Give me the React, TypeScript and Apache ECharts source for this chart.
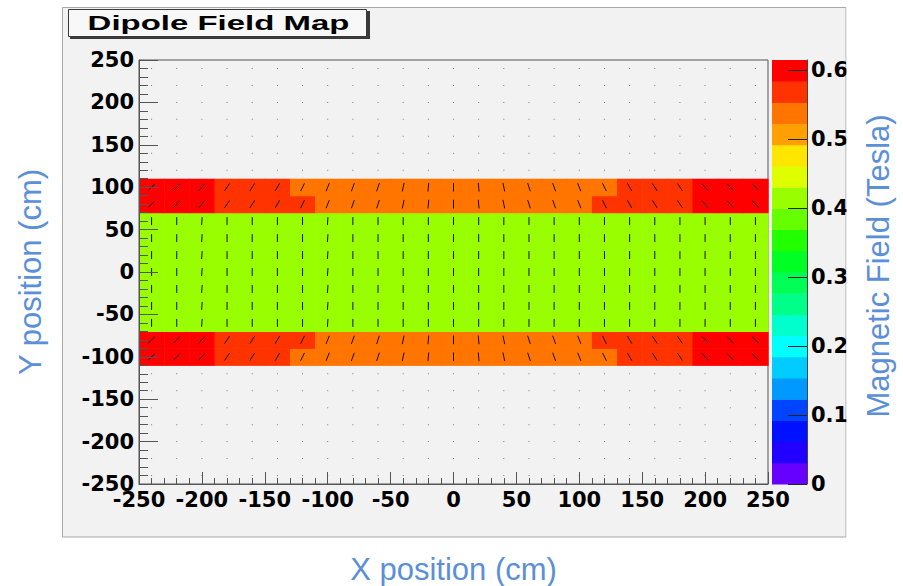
import React, { useEffect, useRef } from 'react';
import * as echarts from 'echarts';

// Cell centres (cm), 20 cm bins from -250 to 250
const xCenters = [-240, -220, -200, -180, -160, -140, -120, -100, -80, -60, -40, -20, 0, 20, 40, 60, 80, 100, 120, 140, 160, 180, 200, 220, 240];
const yCenters = [-240, -220, -200, -180, -160, -140, -120, -100, -80, -60, -40, -20, 0, 20, 40, 60, 80, 100, 120, 140, 160, 180, 200, 220, 240];

// Field magnitude (Tesla) per column for each kind of row
const fieldOuterRow = [0.6, 0.6, 0.6, 0.57, 0.57, 0.57, 0.54, 0.54, 0.54, 0.54, 0.54, 0.54, 0.54, 0.54, 0.54, 0.54, 0.54, 0.54, 0.54, 0.57, 0.57, 0.57, 0.6, 0.6, 0.6];
const fieldInnerRow = [0.6, 0.6, 0.6, 0.57, 0.57, 0.57, 0.57, 0.54, 0.54, 0.54, 0.54, 0.54, 0.54, 0.54, 0.54, 0.54, 0.54, 0.54, 0.57, 0.57, 0.57, 0.57, 0.6, 0.6, 0.6];
const fieldCoreRow = [0.41, 0.41, 0.41, 0.41, 0.41, 0.41, 0.41, 0.41, 0.41, 0.41, 0.41, 0.41, 0.41, 0.41, 0.41, 0.41, 0.41, 0.41, 0.41, 0.41, 0.41, 0.41, 0.41, 0.41, 0.41];

// Field direction (degrees from vertical, positive leans right) per column
const angleBandRow = [46, 44, 42, 34, 33, 30, 26, 22, 20, 18, 12, 5, 0, -5, -12, -18, -20, -22, -26, -30, -33, -34, -42, -44, -46];
const angleCoreRow = [0, 0, 4, 0, 0, 0, 0, 4, 0, 0, 0, 0, 0, 0, 0, 0, 0, 0, 0, 0, 0, 0, 0, 0, 0];

// Which profile each row (bottom to top) follows
const rowProfile = [
  'none', 'none', 'none', 'none', 'none', 'none', 'none',
  'outer', 'inner',
  'core', 'core', 'core', 'core', 'core', 'core', 'core',
  'inner', 'outer',
  'none', 'none', 'none', 'none', 'none', 'none', 'none',
];

const zMax = 0.6145;
const zTicks = [0, 0.1, 0.2, 0.3, 0.4, 0.5, 0.6];
const palette = [
  '#6600FF', '#2200FF', '#0011FF', '#0044FF', '#0099FF', '#00CCFF', '#00FFFF', '#00FFCC', '#00FF88', '#00FF55',
  '#00FF22', '#22FF00', '#66FF00', '#99FF00', '#DDFF00', '#FFE600', '#FFA000', '#FF7500', '#FF3300', '#FF0000',
];

const BLUE = '#5B8FD8';
const LABEL_FONT = { fontFamily: 'DejaVu Sans', fontWeight: 'bold' as const, fontSize: 21, color: '#000' };

function buildCells() {
  const cells: number[][] = [];
  yCenters.forEach((y, j) => {
    const prof = rowProfile[j];
    xCenters.forEach((x, i) => {
      let v = 0;
      let a = 0;
      if (prof === 'outer') { v = fieldOuterRow[i]; a = angleBandRow[i]; }
      else if (prof === 'inner') { v = fieldInnerRow[i]; a = angleBandRow[i]; }
      else if (prof === 'core') { v = fieldCoreRow[i]; a = angleCoreRow[i]; }
      cells.push([x, y, v, a]);
    });
  });
  return cells;
}

export default function App() {
  const ref = useRef<HTMLDivElement>(null);
  useEffect(() => {
    if (!ref.current) return;
    const chart = echarts.init(ref.current, undefined, { renderer: 'svg' });
    const half = 10;
    const option: any = {
      animation: false,
      backgroundColor: '#FFFFFF',
      graphic: [
        {
          type: 'rect', z: -10, silent: true,
          shape: { x: 62.5, y: 7.5, width: 783.5, height: 529.5 },
          style: { fill: '#F2F2F2', stroke: '#A8A8A8', lineWidth: 1 },
        },
        {
          type: 'group', z: 10,
          children: [
            { type: 'rect', shape: { x: 70, y: 11, width: 300, height: 28 }, style: { fill: '#3A3A3A' } },
            { type: 'rect', shape: { x: 68.5, y: 9.5, width: 298, height: 27 }, style: { fill: '#F8F8F8', stroke: '#3A3A3A', lineWidth: 1 } },
            {
              type: 'text', x: 218.5, y: 23, scaleX: 1.57,
              style: { text: 'Dipole Field Map', fontFamily: 'Liberation Sans', fontWeight: 'bold', fontSize: 21, fill: '#000', align: 'center', verticalAlign: 'middle' },
            },
          ],
        },
        {
          type: 'rect', z: 100, silent: true,
          shape: { x: 846.5, y: 0, width: 60, height: 586 },
          style: { fill: '#FFFFFF' },
        },
        {
          type: 'text', z: 101, x: 878, y: 266, rotation: Math.PI / 2,
          style: { text: 'Magnetic Field (Tesla)', fontFamily: 'Liberation Sans', fontSize: 31, fill: BLUE, align: 'center', verticalAlign: 'middle' },
        },
      ],
      grid: [
        { left: 139, top: 60, width: 629, height: 424, show: true, borderColor: '#555', borderWidth: 1, backgroundColor: 'transparent', containLabel: false, outerBoundsMode: 'none' },
        { left: 772, top: 60, width: 35, height: 424, show: false, containLabel: false, outerBoundsMode: 'none' },
      ],
      xAxis: [
        {
          type: 'value', gridIndex: 0, min: -250, max: 250, interval: 50, z: 5,
          axisLine: { show: true, onZero: false, lineStyle: { color: '#555', width: 1 } },
          axisTick: { show: true, inside: true, length: 12, lineStyle: { color: '#555' } },
          minorTick: { show: true, splitNumber: 5, length: 6, lineStyle: { color: '#555' } },
          splitLine: { show: false },
          axisLabel: { ...LABEL_FONT, margin: 5 },
          name: 'X position (cm)', nameLocation: 'middle', nameGap: 70,
          nameTextStyle: { fontFamily: 'Liberation Sans', fontSize: 31, color: BLUE },
        },
        { type: 'value', gridIndex: 1, min: 0, max: 1, show: false },
      ],
      yAxis: [
        {
          type: 'value', gridIndex: 0, min: -250, max: 250, interval: 50, z: 5,
          axisLine: { show: true, onZero: false, lineStyle: { color: '#555', width: 1 } },
          axisTick: { show: true, inside: true, length: 19, lineStyle: { color: '#555' } },
          minorTick: { show: true, splitNumber: 5, length: 9, lineStyle: { color: '#555' } },
          splitLine: { show: false },
          axisLabel: { ...LABEL_FONT, margin: 5 },
          name: 'Y position (cm)', nameLocation: 'middle', nameGap: 93, nameRotate: 90,
          nameTextStyle: { fontFamily: 'Liberation Sans', fontSize: 31, color: BLUE },
        },
        {
          type: 'value', gridIndex: 1, position: 'right', min: 0, max: zMax, z: 5,
          axisLine: { show: true, onZero: false, lineStyle: { color: '#444', width: 1 } },
          axisTick: { show: true, inside: true, length: 19, customValues: zTicks, lineStyle: { color: '#222' } },
          splitLine: { show: false },
          axisLabel: {
            ...LABEL_FONT, margin: 4, customValues: zTicks,
            formatter: (v: number) => (v === 0 ? '0' : v.toFixed(1)),
          },
        },
      ],
      series: [
        {
          type: 'custom', xAxisIndex: 0, yAxisIndex: 0, z: 2,
          data: buildCells(),
          renderItem: (_p: any, api: any) => {
            const x = api.value(0), y = api.value(1), v = api.value(2), ang = api.value(3);
            const c = api.coord([x, y]);
            const children: any[] = [];
            if (v > 0) {
              const p0 = api.coord([x - half, y + half]);
              const p1 = api.coord([x + half, y - half]);
              const idx = Math.min(palette.length - 1, Math.floor((v / zMax) * palette.length));
              children.push({
                type: 'rect',
                shape: { x: p0[0], y: p0[1], width: p1[0] - p0[0] + 0.6, height: p1[1] - p0[1] + 0.6 },
                style: { fill: palette[idx] },
              });
              const len = 5.5 + 6 * v;
              const r = (ang * Math.PI) / 180;
              const dx = (Math.sin(r) * len) / 2, dy = (Math.cos(r) * len) / 2;
              children.push({
                type: 'line', z2: 5,
                shape: { x1: c[0] - dx, y1: c[1] + dy, x2: c[0] + dx, y2: c[1] - dy },
                style: { stroke: '#111', lineWidth: 1 },
              });
            } else {
              children.push({
                type: 'rect',
                shape: { x: c[0] - 0.5, y: c[1] - 0.5, width: 1, height: 1 },
                style: { fill: '#777' },
              });
            }
            return { type: 'group', children };
          },
        },
        {
          type: 'custom', xAxisIndex: 1, yAxisIndex: 1, z: 2,
          data: palette.map((_c, i) => [i]),
          renderItem: (_p: any, api: any) => {
            const i = api.value(0);
            const step = zMax / palette.length;
            const a = api.coord([0, i * step]);
            const b = api.coord([1, (i + 1) * step]);
            return {
              type: 'rect',
              shape: { x: a[0], y: b[1], width: b[0] - a[0], height: a[1] - b[1] + 0.5 },
              style: { fill: palette[i] },
            };
          },
        },
      ],
    };
    chart.setOption(option);
    return () => chart.dispose();
  }, []);
  return <div ref={ref} style={{ position: 'fixed', left: 0, top: 0, width: 903, height: 586 }} />;
}
